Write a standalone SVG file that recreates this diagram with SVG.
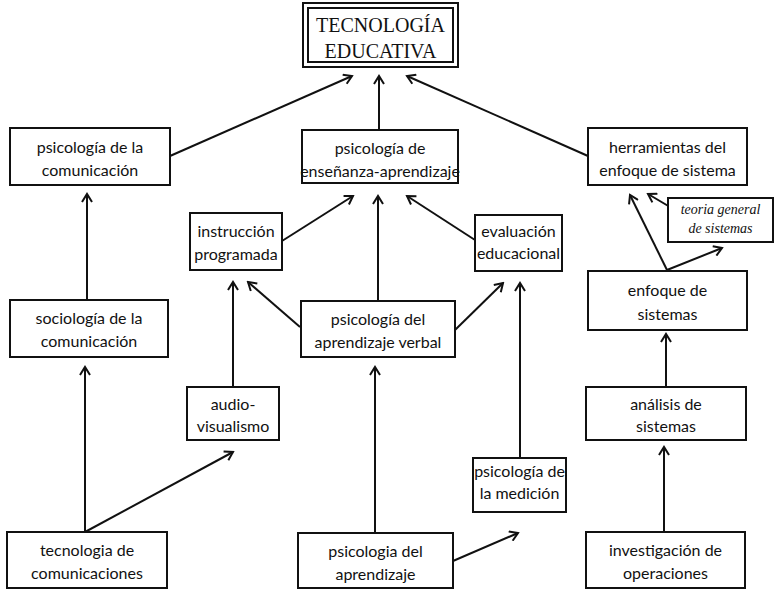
<svg xmlns="http://www.w3.org/2000/svg" width="775" height="591" viewBox="0 0 775 591">
<style>
.box{fill:#fff;stroke:#111;stroke-width:2}
.t{font-family:Lato,"Open Sans","Liberation Sans",sans-serif;font-size:16px;fill:#111;text-anchor:middle}
.ti{font-family:"Liberation Serif","Times New Roman",serif;font-size:20px;fill:#111;text-anchor:middle}
.it{font-family:"Liberation Serif","Times New Roman",serif;font-style:italic;font-size:14px;fill:#111;text-anchor:middle}
.c line{stroke:#111;stroke-width:2;fill:none;marker-end:url(#ah)}
</style>
<defs>
<marker id="ah" viewBox="0 0 12 12" refX="10" refY="6" markerWidth="12" markerHeight="12" markerUnits="userSpaceOnUse" orient="auto">
<path d="M2,1 L10,6 L2,11" fill="none" stroke="#111" stroke-width="2"/>
</marker>
</defs>
<rect width="775" height="591" fill="#fff"/>
<g class="c" id="connectors">
<line x1="170" y1="156" x2="352" y2="76"/>
<line x1="379" y1="130" x2="379" y2="76"/>
<line x1="588" y1="156" x2="407" y2="76"/>
<line x1="87" y1="300" x2="87" y2="194"/>
<line x1="282" y1="241" x2="353" y2="196"/>
<line x1="378" y1="301" x2="378" y2="196"/>
<line x1="475" y1="240" x2="407" y2="196"/>
<line x1="300" y1="327" x2="248" y2="282"/>
<line x1="455" y1="330" x2="503" y2="283"/>
<line x1="233" y1="387" x2="233" y2="282"/>
<line x1="520" y1="458" x2="520" y2="283"/>
<line x1="85" y1="532" x2="85" y2="367"/>
<line x1="85" y1="532" x2="233" y2="452"/>
<line x1="375" y1="533" x2="375" y2="367"/>
<line x1="453" y1="561" x2="518" y2="533"/>
<line x1="667" y1="270" x2="630" y2="195"/>
<line x1="667" y1="270" x2="722" y2="248"/>
<line x1="670" y1="207" x2="648" y2="194"/>
<line x1="666" y1="387" x2="666" y2="334"/>
<line x1="664" y1="532" x2="664" y2="447"/>
</g>
<g id="title">
<rect class="box" x="303" y="3" width="155" height="64"/>
<rect class="box" x="308" y="8" width="145" height="54"/>
<text class="ti" x="380.5" y="32">TECNOLOGÍA</text>
<text class="ti" x="380.5" y="58">EDUCATIVA</text>
</g>
<g id="psicom">
<rect class="box" x="10" y="128" width="160" height="57"/>
<text class="t" x="90" y="153">psicología de la</text>
<text class="t" x="90" y="176">comunicación</text>
</g>
<g id="pea">
<rect class="box" x="302" y="130" width="156" height="53"/>
<text class="t" x="380" y="154">psicología de</text>
<text class="t" x="380" y="177">enseñanza-aprendizaje</text>
</g>
<g id="herr">
<rect class="box" x="588" y="128" width="159" height="57"/>
<text class="t" x="667.5" y="153">herramientas del</text>
<text class="t" x="667.5" y="176">enfoque de sistema</text>
</g>
<g id="instr">
<rect class="box" x="190" y="213" width="92" height="57"/>
<text class="t" x="236" y="237">instrucción</text>
<text class="t" x="236" y="260">programada</text>
</g>
<g id="eval">
<rect class="box" x="475" y="215" width="87" height="56"/>
<text class="t" x="518.5" y="237">evaluación</text>
<text class="t" x="518.5" y="259">educacional</text>
</g>
<g id="teoria">
<rect class="box" x="668" y="198" width="105" height="44"/>
<text class="it" x="720.5" y="214">teoria general</text>
<text class="it" x="720.5" y="233">de sistemas</text>
</g>
<g id="socio">
<rect class="box" x="10" y="300" width="158" height="57"/>
<text class="t" x="89" y="324">sociología de la</text>
<text class="t" x="89" y="347">comunicación</text>
</g>
<g id="verbal">
<rect class="box" x="301" y="301" width="154" height="56"/>
<text class="t" x="378" y="325">psicología del</text>
<text class="t" x="378" y="348">aprendizaje verbal</text>
</g>
<g id="enfoque">
<rect class="box" x="588" y="271" width="159" height="59"/>
<text class="t" x="667.5" y="296">enfoque de</text>
<text class="t" x="667.5" y="320">sistemas</text>
</g>
<g id="audio">
<rect class="box" x="187" y="387" width="92" height="53"/>
<text class="t" x="233" y="410">audio-</text>
<text class="t" x="233" y="432">visualismo</text>
</g>
<g id="analisis">
<rect class="box" x="586" y="387" width="160" height="53"/>
<text class="t" x="666" y="410">análisis de</text>
<text class="t" x="666" y="432">sistemas</text>
</g>
<g id="medicion">
<rect class="box" x="473" y="458" width="93" height="54"/>
<text class="t" x="519.5" y="477">psicología de</text>
<text class="t" x="519.5" y="499">la medición</text>
</g>
<g id="tecnocom">
<rect class="box" x="7" y="532" width="160" height="56"/>
<text class="t" x="87" y="556">tecnologia de</text>
<text class="t" x="87" y="579">comunicaciones</text>
</g>
<g id="psiaprend">
<rect class="box" x="298" y="533" width="155" height="55"/>
<text class="t" x="375.5" y="557">psicologia del</text>
<text class="t" x="375.5" y="580">aprendizaje</text>
</g>
<g id="invest">
<rect class="box" x="586" y="532" width="159" height="56"/>
<text class="t" x="665.5" y="556">investigación de</text>
<text class="t" x="665.5" y="579">operaciones</text>
</g>
</svg>
